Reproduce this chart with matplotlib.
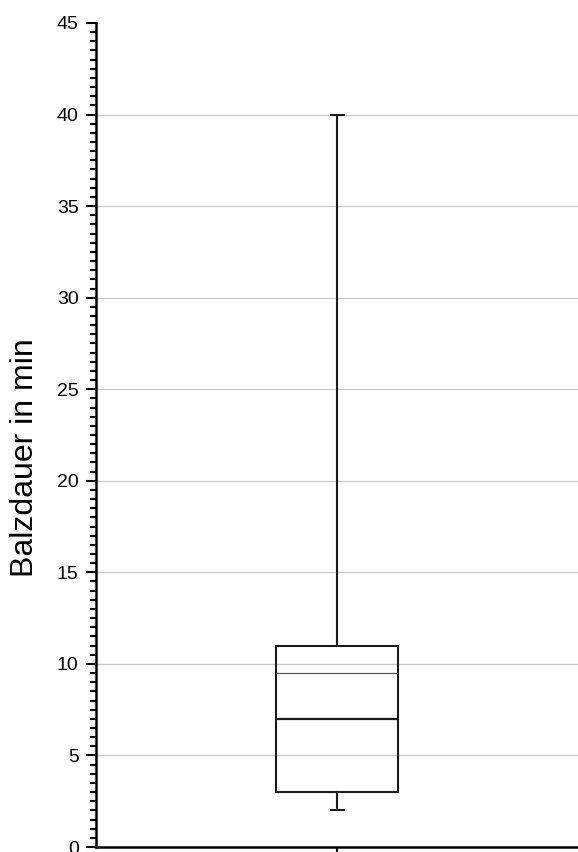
import matplotlib
matplotlib.use("Agg")
import matplotlib.pyplot as plt
import numpy as np

# Data
whisker_low = 2
q1 = 3
median = 7
mean = 9.5
q3 = 11
whisker_high = 40
y_label = "Balzdauer in min"
y_ticks = [0, 5, 10, 15, 20, 25, 30, 35, 40, 45]

plt.rcParams['font.family'] = ['Liberation Sans', 'DejaVu Sans']

fig = plt.figure(figsize=(5.78, 8.52), dpi=100)
ax = fig.add_axes([96/578, 5/852, 1 - 96/578, (847-23)/852])

stats = [dict(med=median, q1=q1, q3=q3, whislo=whisker_low, whishi=whisker_high,
              mean=mean, fliers=[])]
ax.bxp(stats, positions=[1], widths=[122/482], capwidths=[13/482],
       showmeans=True, meanline=True, showfliers=False,
       boxprops=dict(color='#1a1a1a', linewidth=1.5),
       medianprops=dict(color='#1a1a1a', linewidth=1.6),
       meanprops=dict(color='#555555', linewidth=0.9, linestyle='-'),
       whiskerprops=dict(color='#1a1a1a', linewidth=1.5),
       capprops=dict(color='#1a1a1a', linewidth=1.5),
       zorder=3)

ax.set_xlim(0.5, 1.5)
ax.set_ylim(0, 45)
ax.set_yticks(y_ticks)
ax.set_yticklabels([str(t) for t in y_ticks], fontsize=14)
ax.set_yticks(np.arange(0, 45.01, 0.5), minor=True)
ax.set_xticks([1])
ax.set_xticklabels([""])

for t in y_ticks[1:-1]:
    ax.axhline(t, color='#c8c8c8', linewidth=0.9, zorder=1)

ax.tick_params(axis='y', which='major', direction='out', length=7.5, width=1.5,
               colors='black', pad=5)
ax.tick_params(axis='y', which='minor', direction='out', length=4.5, width=1.5,
               colors='black')
ax.tick_params(axis='x', which='major', direction='out', length=4, width=1.5)

for s in ['top', 'right']:
    ax.spines[s].set_visible(False)
for s in ['left', 'bottom']:
    ax.spines[s].set_linewidth(1.8)
    ax.spines[s].set_color('black')

ax.set_ylabel(y_label, fontsize=23)
ax.yaxis.set_label_coords((40 - 96) / 482, (847 - 458) / 824)

fig.savefig("out.png", dpi=100)
